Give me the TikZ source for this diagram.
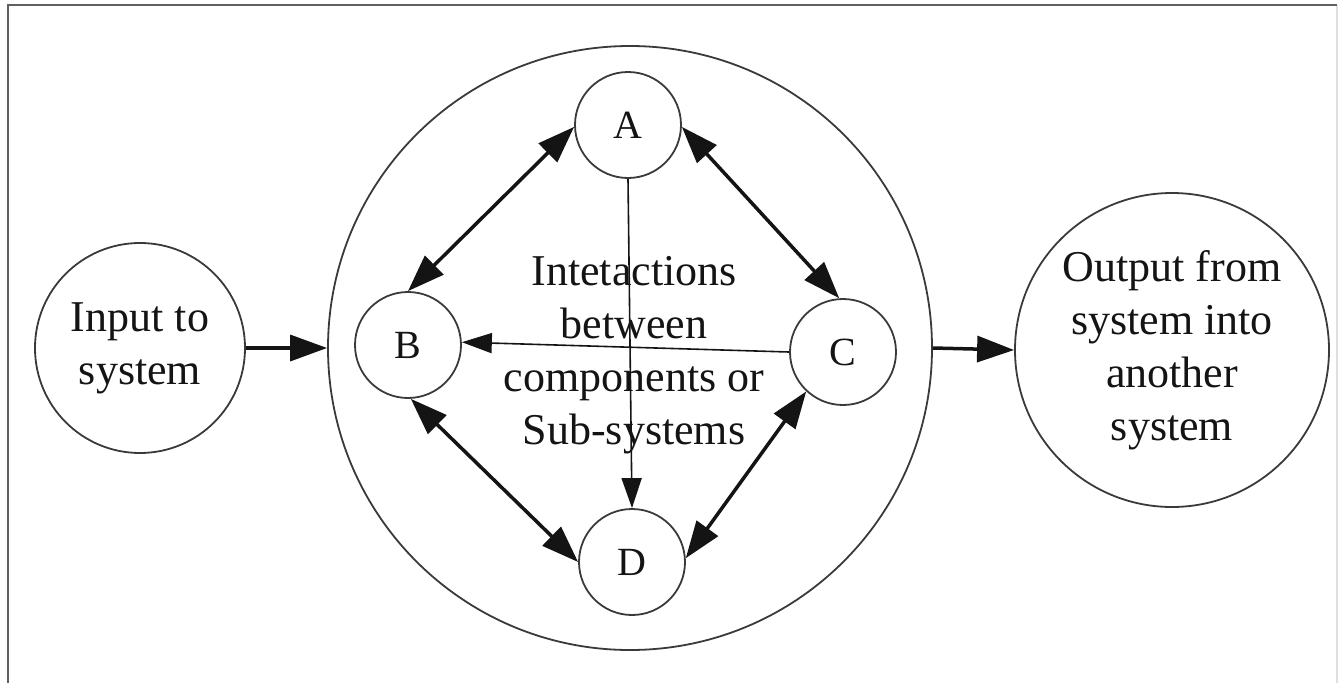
\documentclass[tikz,border=0pt]{standalone}
\usepackage{fontspec}
\setmainfont{Liberation Serif}
\usetikzlibrary{arrows.meta}
\definecolor{linegray}{HTML}{3A3A3A}
\definecolor{ink}{HTML}{141414}
\begin{document}
\begin{tikzpicture}[x=1pt,y=-1pt,
  circ/.style={circle,draw=linegray,line width=1.8pt,inner sep=0pt,align=center,
    font=\fontsize{44}{53}\selectfont,text=ink},
  small/.style={circ,minimum size=106pt,font=\fontsize{40}{48}\selectfont},
  txt/.style={align=center,font=\fontsize{44}{53}\selectfont,text=ink,inner sep=0pt},
  bigtip/.tip={Triangle[length=37pt,width=26pt]},
  thintip/.tip={Triangle[length=30pt,width=20pt]},
  both/.style={draw=ink,line width=3.5pt,bigtip-bigtip},
  one/.style={draw=ink,line width=1.6pt,-thintip},
  flow/.style={draw=ink,line width=3.5pt,-bigtip}]
\useasboundingbox (0,0) rectangle (1342,683);
% frame
\draw[gray!25,line width=2pt] (1337,5) -- (1337,690);
\draw[gray!75!black,line width=2.4pt] (8,690) -- (8,5) -- (1337,5);
% circles
\node[circ,minimum size=210pt] (in) at (140,348) {Input to\\system};
\node[circ,minimum size=604pt] (sys) at (630,348) {};
\node[circ,minimum size=314pt] (out) at (1172,350) {Output from\\system into\\another\\system};
\node[small] (A) at (628,125) {A};
\node[small] (B) at (408,345) {B};
\node[small] (C) at (843,352) {C};
\node[small] (D) at (632,562) {D};
% connectors inside
\draw[one] (A.south) -- (D.north);
\draw[one] (C.180) -- (B.3);
\node[txt] (t) at (634,355) {Intetactions\\between\\components or\\Sub-systems};
\draw[both] (A.182) -- (B.90);
\draw[both] (A.358) -- (C.94);
\draw[both] (B.-87) -- (D.180);
\draw[both] (C.227) -- (D.4);
% flow
\draw[flow] (in.east) -- (sys.west);
\draw[flow] (sys.east) -- (out.west);
\end{tikzpicture}
\end{document}
